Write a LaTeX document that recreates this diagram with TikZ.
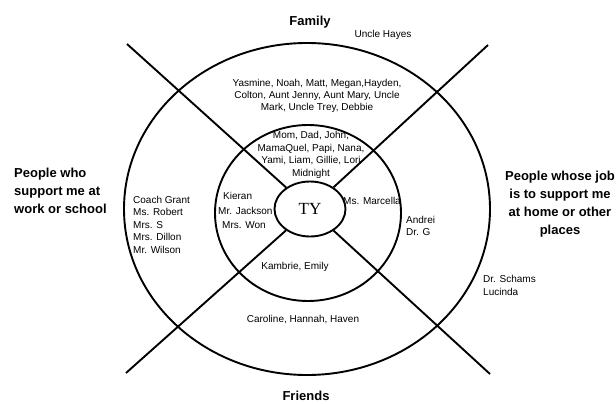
\documentclass[tikz,border=0pt]{standalone}
\usepackage{fontspec}
\setmainfont{Liberation Sans}
\newfontfamily\tyfont{Liberation Serif}
\usetikzlibrary{shapes.geometric}
\begin{document}
\begin{tikzpicture}[x=1pt,y=-1pt,
  ring/.style={draw, line width=1.9pt},
  spoke/.style={draw, line width=1.9pt},
  lbl/.style={inner sep=0pt, font=\fontsize{10}{12.4}\selectfont},
  head/.style={inner sep=0pt, font=\fontsize{13}{18}\selectfont\bfseries}]
\useasboundingbox (0,0) rectangle (616,404);
\fill[white] (0,0) rectangle (616,404);
% rings
\draw[ring] (307,209) ellipse [x radius=183, y radius=166];
\draw[ring] (308,213) ellipse [x radius=93, y radius=88];
\node[ring, ellipse, minimum width=71pt, minimum height=55pt, inner sep=0pt,
  font=\tyfont\fontsize{17}{17}\selectfont, fill=white] (ty) at (310,209) {TY};
% spokes
\coordinate (tl) at (127,44);
\coordinate (tr) at (488,45);
\coordinate (bl) at (126,373);
\coordinate (br) at (490,374);
\draw[spoke] (tl) -- (ty);
\draw[spoke] (tr) -- (ty);
\draw[spoke] (bl) -- (ty);
\draw[spoke] (br) -- (ty);
% headings
\node[head] (family) at (310,22) {Family};
\node[head] (friends) at (306,396) {Friends};
\node[head, align=left, anchor=north west] (work) at (14,168) {People who\\support me at\\work or school};
\node[head, align=center] (job) at (560,204) {People whose job\\is to support me\\at home or other\\places};
% names
\node[lbl] (hayes) at (383,35) {Uncle Hayes};
\node[lbl, align=center] (fam2) at (317,96) {Yasmine, Noah, Matt, Megan,Hayden,\\Colton, Aunt Jenny, Aunt Mary, Uncle\\Mark, Uncle Trey, Debbie};
\node[lbl, align=center] (fam1) at (311,155) {Mom, Dad, John,\\MamaQuel, Papi, Nana,\\Yami, Liam, Gillie, Lori\\Midnight};
\node[lbl, anchor=west] (kieran) at (223,196) {Kieran};
\node[lbl, anchor=west] (jackson) at (218,211) {Mr. Jackson};
\node[lbl, anchor=west] (won) at (222,225) {Mrs. Won};
\node[lbl, anchor=west] (marcella) at (343,201) {Ms. Marcella};
\node[lbl, align=left, anchor=west] (andrei) at (406,226) {Andrei\\Dr. G};
\node[lbl, align=left, anchor=west] (schams) at (483,285.5) {Dr. Schams\\Lucinda};
\node[lbl, align=left, anchor=north west] (coach) at (133,196) {Coach Grant\\Ms. Robert\\Mrs. S\\Mrs. Dillon\\Mr. Wilson};
\node[lbl] (kambrie) at (295,267) {Kambrie, Emily};
\node[lbl] (caroline) at (303,320) {Caroline, Hannah, Haven};
\end{tikzpicture}
\end{document}
